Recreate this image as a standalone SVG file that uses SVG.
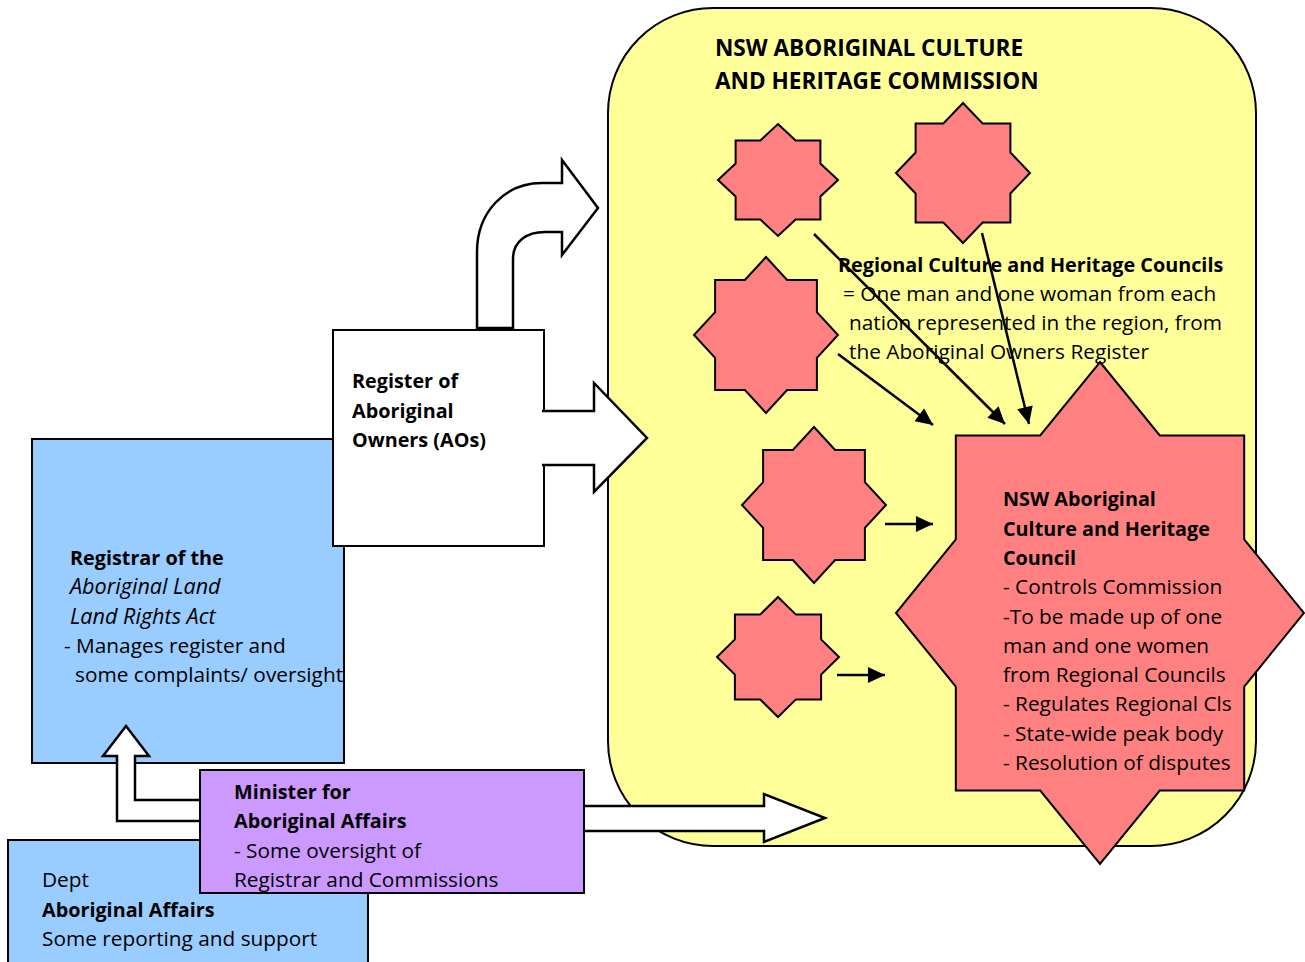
<svg xmlns="http://www.w3.org/2000/svg" width="1305" height="962" viewBox="0 0 1305 962">
<defs>
<style>
text{font-family:"Open Sans","Noto Sans","Liberation Sans",sans-serif;font-size:20.8px;fill:#000}
.b{font-weight:bold;font-size:19.8px}
.i{font-style:italic;font-size:21.6px}
.t{font-weight:bold;font-size:22.6px}
.shape{stroke:#000;stroke-width:2}
.star{fill:#FF8080;stroke:#000;stroke-width:2;stroke-linejoin:miter}
.blk{fill:#fff;stroke:#000;stroke-width:2.5;stroke-linejoin:miter}
.thin{stroke:#000;stroke-width:2.5;fill:none;marker-end:url(#ah)}
</style>
<marker id="ah" markerUnits="userSpaceOnUse" markerWidth="18" markerHeight="16" refX="16" refY="7.5" orient="auto" viewBox="0 0 16 15">
<path d="M0,0 L16,7.5 L0,15 z" fill="#000"/>
</marker>
</defs>
<rect width="1305" height="962" fill="#fff"/>

<g id="registrar">
<rect class="shape" x="32" y="439" width="312" height="324" fill="#99CCFF"/>
<text x="70" y="565" class="b">Registrar of the</text>
<text x="70" y="594" class="i">Aboriginal Land</text>
<text x="70" y="624" class="i">Land Rights Act</text>
<text x="64" y="653">- Manages register and</text>
<text x="75" y="682">some complaints/ oversight</text>
</g>

<g id="register">
<rect class="shape" x="333" y="330" width="211" height="216" fill="#fff"/>
<text x="352" y="388" class="b">Register of</text>
<text x="352" y="418" class="b">Aboriginal</text>
<text x="352" y="447" class="b">Owners (AOs)</text>
</g>

<g id="commission">
<rect class="shape" x="608" y="8" width="648" height="838" rx="105" ry="105" fill="#FFFF99"/>
<text x="715" y="56" class="t">NSW ABORIGINAL CULTURE</text>
<text x="715" y="89" class="t">AND HERITAGE COMMISSION</text>
</g>

<g id="regional-councils">
<polygon class="star" points="778,124 795.6,140.4 820.4,140.4 820.4,163.6 838,180 820.4,196.4 820.4,219.6 795.6,219.6 778,236 760.4,219.6 735.6,219.6 735.6,196.4 718,180 735.6,163.6 735.6,140.4 760.4,140.4"/>
<polygon class="star" points="963,103 982.6,123.5 1010.4,123.5 1010.4,152.5 1030,173 1010.4,193.5 1010.4,222.5 982.6,222.5 963,243 943.4,222.5 915.6,222.5 915.6,193.5 896,173 915.6,152.5 915.6,123.5 943.4,123.5"/>
<polygon class="star" points="766,257 787.1,279.9 816.9,279.9 816.9,312.1 838,335 816.9,357.9 816.9,390.1 787.1,390.1 766,413 744.9,390.1 715.1,390.1 715.1,357.9 694,335 715.1,312.1 715.1,279.9 744.9,279.9"/>
<polygon class="star" points="814,427 835.1,449.9 864.9,449.9 864.9,482.1 886,505 864.9,527.9 864.9,560.1 835.1,560.1 814,583 792.9,560.1 763.1,560.1 763.1,527.9 742,505 763.1,482.1 763.1,449.9 792.9,449.9"/>
<polygon class="star" points="778,597 795.9,614.6 821.1,614.6 821.1,639.4 839,657 821.1,674.6 821.1,699.4 795.9,699.4 778,717 760.1,699.4 734.9,699.4 734.9,674.6 717,657 734.9,639.4 734.9,614.6 760.1,614.6"/>
<text x="838" y="272" class="b">Regional Culture and Heritage Councils</text>
<text x="843" y="301">= One man and one woman from each</text>
<text x="849" y="330">nation represented in the region, from</text>
<text x="849" y="359">the Aboriginal Owners Register</text>
</g>

<g id="state-council">
<polygon class="star" points="1100,362 1159.8,435.5 1244.2,435.5 1244.2,539.5 1304,613 1244.2,686.5 1244.2,790.5 1159.8,790.5 1100,864 1040.2,790.5 955.8,790.5 955.8,686.5 896,613 955.8,539.5 955.8,435.5 1040.2,435.5"/>
<text x="1003" y="506" class="b">NSW Aboriginal</text>
<text x="1003" y="536" class="b">Culture and Heritage</text>
<text x="1003" y="565" class="b">Council</text>
<text x="1003" y="594">- Controls Commission</text>
<text x="1003" y="624">-To be made up of one</text>
<text x="1003" y="653">man and one women</text>
<text x="1003" y="682">from Regional Councils</text>
<text x="1003" y="711">- Regulates Regional Cls</text>
<text x="1003" y="741">- State-wide peak body</text>
<text x="1003" y="770">- Resolution of disputes</text>
</g>

<g id="dept">
<rect class="shape" x="8" y="840" width="360" height="140" fill="#99CCFF"/>
<text x="42" y="887">Dept</text>
<text x="42" y="917" class="b">Aboriginal Affairs</text>
<text x="42" y="946">Some reporting and support</text>
</g>

<g id="minister">
<rect class="shape" x="200" y="770" width="384" height="123" fill="#CC99FF"/>
<text x="234" y="799" class="b">Minister for</text>
<text x="234" y="828" class="b">Aboriginal Affairs</text>
<text x="234" y="858">- Some oversight of</text>
<text x="234" y="887">Registrar and Commissions</text>
</g>

<g id="connectors">
<path class="blk" d="M477,328 L477,252 C477,212 505,183 542,183 L562,183 L562,160 L598,208 L562,255 L562,232 L545,232 C527,232 513,241 513,259 L513,328 Z"/>
<path class="blk" d="M542,411 L594,411 L594,383 L647,438 L594,492 L594,465 L542,465"/>
<path class="blk" d="M199,821 L117,821 L117,756 L103,756 L126,726 L149,756 L135,756 L135,800 L199,800"/>
<path class="blk" d="M585,806 L764,806 L764,794 L825,818 L764,842 L764,831 L585,831"/>
<line class="thin" x1="814" y1="234" x2="1005" y2="424"/>
<line class="thin" x1="982" y1="233" x2="1029" y2="424"/>
<line class="thin" x1="838" y1="354" x2="933" y2="425"/>
<line class="thin" x1="885" y1="524" x2="933" y2="524"/>
<line class="thin" x1="837" y1="675" x2="885" y2="675"/>
</g>
</svg>
